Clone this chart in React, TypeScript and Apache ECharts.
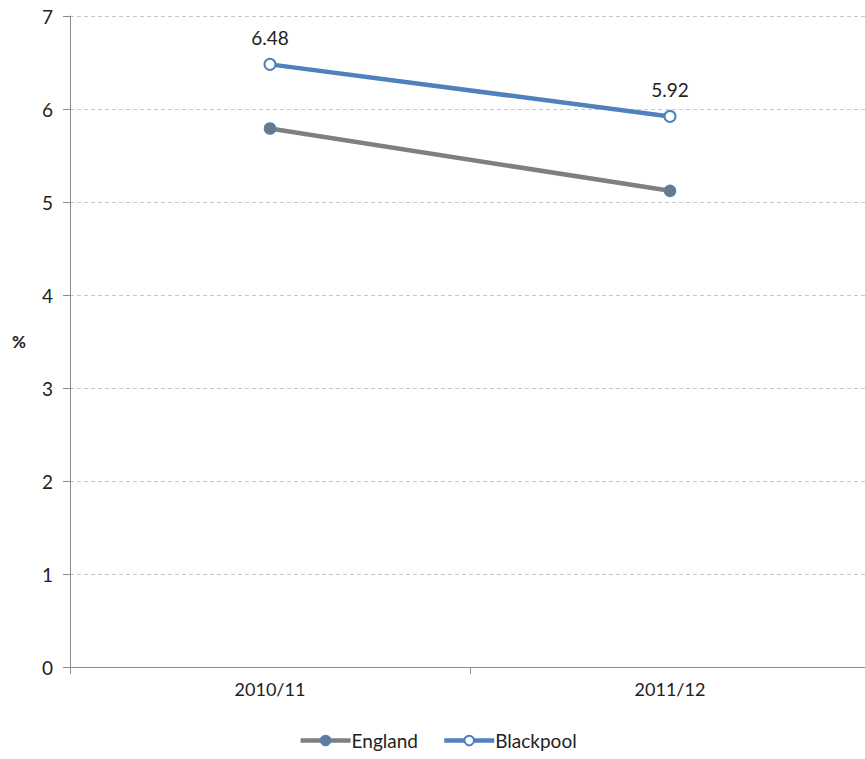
import React, { useEffect, useRef } from "react";
import * as echarts from "echarts";

const categories = ["2010/11", "2011/12"];
const england = [5.79, 5.12];
const blackpool = [6.48, 5.92];
const yTicks = [0, 7, 1];

export default function App() {
  const ref = useRef<HTMLDivElement>(null);
  useEffect(() => {
    document.body.style.margin = "0";
    const chart = echarts.init(ref.current!, null, { renderer: "svg" });
    const font = "Lato, 'Open Sans', sans-serif";
    chart.setOption({
      animation: false,
      backgroundColor: "#ffffff",
      textStyle: { fontFamily: font },
      grid: { left: 70, top: 16, width: 800, height: 651, containLabel: false },
      xAxis: {
        type: "category",
        data: categories,
        boundaryGap: true,
        axisLine: { lineStyle: { color: "#8c8c8c", width: 1 } },
        axisTick: { show: true, length: 7, lineStyle: { color: "#8c8c8c" } },
        axisLabel: { color: "#222", fontSize: 18, margin: 13, fontFamily: font },
      },
      yAxis: {
        type: "value",
        min: yTicks[0],
        max: yTicks[1],
        interval: yTicks[2],
        name: "%",
        nameLocation: "middle",
        nameRotate: 0,
        nameGap: 44,
        nameTextStyle: { color: "#222", fontSize: 17, fontWeight: "bold", fontFamily: font },
        axisLine: { show: true, lineStyle: { color: "#8c8c8c", width: 1 } },
        axisTick: { show: true, length: 7, lineStyle: { color: "#8c8c8c" } },
        axisLabel: { color: "#222", fontSize: 19, margin: 17, fontFamily: font },
        splitLine: { show: true, lineStyle: { color: "#c8c8c8", type: [4, 3], width: 1 } },
      },
      legend: {
        bottom: 4,
        left: "center",
        itemWidth: 50,
        itemHeight: 12,
        itemGap: 24,
        lineStyle: { width: 4.5 },
        textStyle: { color: "#222", fontSize: 19, fontFamily: font, padding: [0, 0, 0, -4] },
        data: ["England", "Blackpool"],
      },
      series: [
        {
          name: "England",
          type: "line",
          data: england,
          symbol: "circle",
          symbolSize: 11,
          lineStyle: { color: "#7f7f7f", width: 4.5 },
          itemStyle: { color: "#6f7782", borderColor: "#4f81bd", borderWidth: 1.5 },
          label: { show: false },
          z: 2,
        },
        {
          name: "Blackpool",
          type: "line",
          data: blackpool,
          symbol: "circle",
          symbolSize: 11,
          lineStyle: { color: "#4f81bd", width: 4.5 },
          itemStyle: { color: "#ffffff", borderColor: "#4f81bd", borderWidth: 2 },
          label: {
            show: true,
            position: "top",
            distance: 11,
            color: "#222",
            fontSize: 19,
            fontFamily: font,
            formatter: (p: any) => p.value.toFixed(2),
          },
          z: 3,
        },
      ],
    });
    return () => chart.dispose();
  }, []);
  return (
    <div style={{ width: 865, height: 759, overflow: "hidden" }}>
      <div ref={ref} style={{ width: 875, height: 759 }} />
    </div>
  );
}
